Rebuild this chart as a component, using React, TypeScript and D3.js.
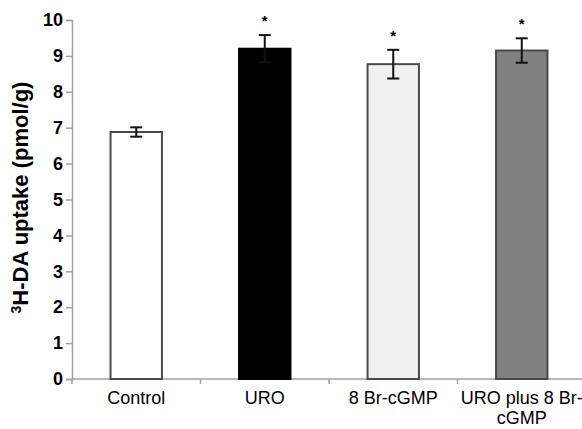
import * as d3 from "d3"
import { useEffect, useRef } from "react"

const categories = ["Control", "URO", "8 Br-cGMP", "URO plus 8 Br-cGMP"]
const labelLines = [["Control"], ["URO"], ["8 Br-cGMP"], ["URO plus 8 Br-", "cGMP"]]
const values = [6.88, 9.2, 8.77, 9.15]
const errors = [0.13, 0.38, 0.4, 0.34]
const significant = [false, true, true, true]
const fills = ["#ffffff", "#000000", "#f0f0f0", "#808080"]
const yTicks = [0, 1, 2, 3, 4, 5, 6, 7, 8, 9, 10]

export default function App() {
	const svgRef = useRef<SVGSVGElement>(null)

	useEffect(() => {
		const width = 582
		const height = 429
		const svg = d3.select(svgRef.current)
		svg.selectAll("*").remove()

		const x = d3.scaleBand<string>()
			.domain(categories)
			.range([72, 586])
			.paddingInner(0.6)
			.paddingOuter(0.3)

		const y = d3.scaleLinear()
			.domain([0, 10])
			.range([379, 20])

		const axisColor = "#a0a0a0"
		const font = "Liberation Sans, Arial, sans-serif"

		// y axis
		const yAxis = svg.append("g")
			.attr("transform", "translate(72,0)")
			.call(d3.axisLeft(y).tickValues(yTicks).tickSize(6).tickPadding(3).tickFormat(d3.format("d")))
		yAxis.selectAll("path, line").attr("stroke", axisColor).attr("stroke-width", 1.5)
		yAxis.selectAll("text")
			.attr("fill", "#000")
			.attr("font-family", font)
			.attr("font-size", 18)
			.attr("font-weight", "bold")

		// x axis line + boundary ticks
		const xAxis = svg.append("g")
		xAxis.append("line")
			.attr("x1", 72).attr("x2", width)
			.attr("y1", y(0)).attr("y2", y(0))
			.attr("stroke", axisColor).attr("stroke-width", 1.5)
		const step = x.step()
		const bounds = d3.range(0, categories.length).map(i => x(categories[i])! - step * 0.3)
		xAxis.selectAll("line.tick")
			.data(bounds)
			.enter()
			.append("line")
			.attr("class", "tick")
			.attr("x1", d => d).attr("x2", d => d)
			.attr("y1", y(0)).attr("y2", y(0) + 5)
			.attr("stroke", axisColor).attr("stroke-width", 1.5)

		// category labels
		labelLines.forEach((lines, i) => {
			const cx = x(categories[i])! + x.bandwidth() / 2
			const t = svg.append("text")
				.attr("text-anchor", "middle")
				.attr("font-family", font)
				.attr("font-size", 18)
				.attr("fill", "#000")
			lines.forEach((ln, j) => {
				t.append("tspan").attr("x", cx).attr("y", 404 + j * 20).text(ln)
			})
		})

		// bars
		svg.append("g")
			.selectAll("rect")
			.data(values)
			.enter()
			.append("rect")
			.attr("x", (d, i) => x(categories[i])!)
			.attr("width", x.bandwidth())
			.attr("y", d => y(d))
			.attr("height", d => y(0) - y(d))
			.attr("fill", (d, i) => fills[i])
			.attr("stroke", (d, i) => i === 1 ? "#000" : "#4a4a4a")
			.attr("stroke-width", 2)

		// error bars
		const err = svg.append("g").attr("stroke", "#111").attr("stroke-width", 2)
		values.forEach((v, i) => {
			const cx = x(categories[i])! + x.bandwidth() / 2
			const top = y(v + errors[i])
			const bot = y(v - errors[i])
			err.append("line").attr("x1", cx).attr("x2", cx).attr("y1", top).attr("y2", bot)
			err.append("line").attr("x1", cx - 6).attr("x2", cx + 6).attr("y1", top).attr("y2", top)
			err.append("line").attr("x1", cx - 6).attr("x2", cx + 6).attr("y1", bot).attr("y2", bot)
			if (significant[i]) {
				svg.append("text")
					.attr("x", cx)
					.attr("y", top - 9)
					.attr("text-anchor", "middle")
					.attr("font-family", font)
					.attr("font-size", 15)
					.attr("font-weight", "bold")
					.text("*")
			}
		})

		// y title
		const title = svg.append("text")
			.attr("transform", `translate(28,${(y(0) + y(10)) / 2 - 2}) rotate(-90)`)
			.attr("text-anchor", "middle")
			.attr("font-family", font)
			.attr("font-size", 22)
			.attr("font-weight", "bold")
			.attr("fill", "#000")
		title.append("tspan").attr("font-size", 14).attr("dy", -7).text("3")
		title.append("tspan").attr("dy", 7).text("H-DA uptake (pmol/g)")

		svg.attr("width", width).attr("height", height)
	}, [])

	return (
		<div style={{ position: "absolute", left: 0, top: 0, width: 582, height: 429, background: "#fff" }}>
			<svg ref={svgRef} width={582} height={429} style={{ display: "block" }} />
		</div>
	)
}
